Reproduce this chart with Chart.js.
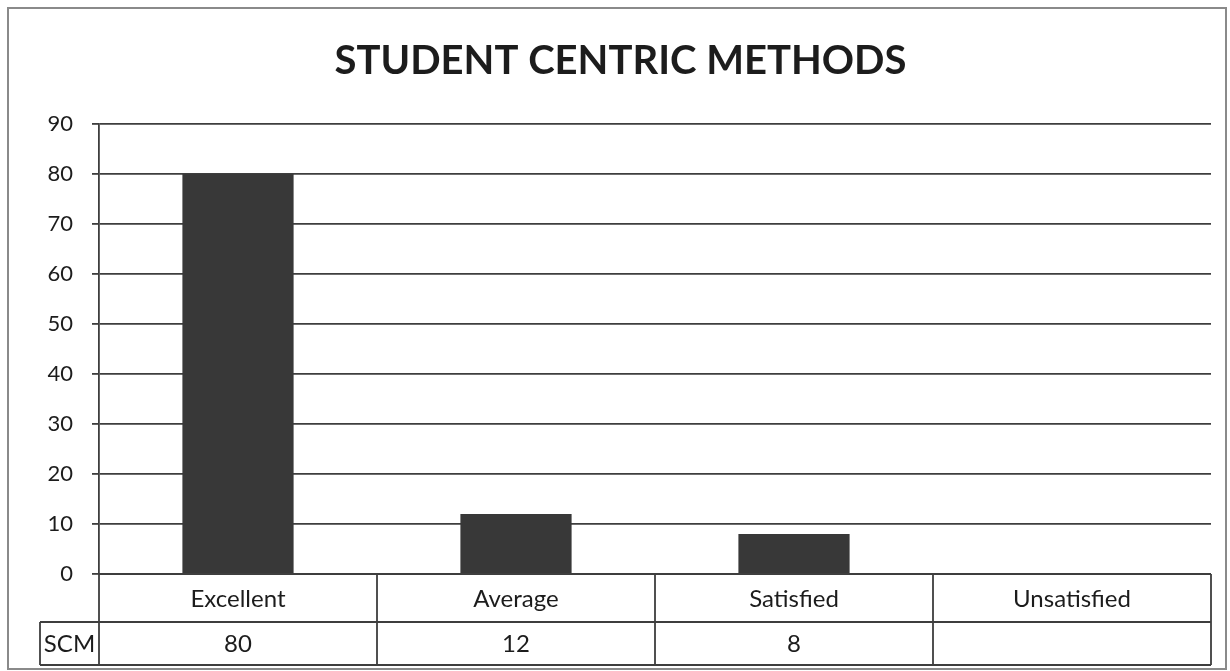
<!DOCTYPE html>
<html>
<head>
<meta charset="utf-8">
<script src="https://cdn.jsdelivr.net/npm/chart.js@4/dist/chart.umd.min.js"></script>
<style>
  html, body { margin: 0; padding: 0; background: #fff; }
  #wrap { width: 1230px; height: 671px; position: relative; }
</style>
</head>
<body>
<div id="wrap"><canvas id="scm"></canvas></div>
<script>
/* ---------- data ---------- */
const categories = ["Excellent", "Average", "Satisfied", "Unsatisfied"];
const seriesName = "SCM";
const scmValues = [80, 12, 8, null];
const yTicks = [0, 10, 20, 30, 40, 50, 60, 70, 80, 90];

const fontFamily = "Lato, 'Open Sans', 'Liberation Sans', sans-serif";
const ink = "#1c1c1c";
const lineColor = "#3e3e3e";

/* ---------- outer frame + data table under the plot ---------- */
const frameAndTable = {
  id: "frameAndTable",
  afterDraw(chart) {
    const ctx = chart.ctx;
    const area = chart.chartArea;
    const x = chart.scales.x;
    const row1 = area.bottom + 48;
    const row2 = row1 + 43;
    const step = (area.right - area.left) / categories.length;
    const labelLeft = 40;

    ctx.save();
    // frame
    ctx.strokeStyle = "#8a8a8a";
    ctx.lineWidth = 2;
    ctx.strokeRect(8, 8, 1218, 661);

    ctx.strokeStyle = lineColor;
    ctx.lineWidth = 1.8;
    ctx.beginPath();
    // horizontal rules
    ctx.moveTo(area.left, area.bottom); ctx.lineTo(area.right, area.bottom);
    ctx.moveTo(labelLeft, row1); ctx.lineTo(area.right, row1);
    ctx.moveTo(labelLeft, row2); ctx.lineTo(area.right, row2);
    // verticals
    ctx.moveTo(labelLeft, row1); ctx.lineTo(labelLeft, row2);
    for (let i = 0; i <= categories.length; i++) {
      const px = area.left + step * i;
      ctx.moveTo(px, area.bottom); ctx.lineTo(px, row2);
    }
    ctx.stroke();

    ctx.fillStyle = ink;
    ctx.font = "24px " + fontFamily;
    ctx.textAlign = "center";
    ctx.textBaseline = "middle";
    categories.forEach((c, i) => {
      const cx = x.getPixelForValue(i);
      ctx.fillText(c, cx, (area.bottom + row1) / 2 + 1);
      const v = scmValues[i];
      ctx.fillText(v == null ? "" : String(v), cx, (row1 + row2) / 2 + 1);
    });
    ctx.fillText(seriesName, (labelLeft + area.left) / 2, (row1 + row2) / 2 + 1);
    ctx.restore();
  }
};

new Chart(document.getElementById("scm"), {
  type: "bar",
  plugins: [frameAndTable],
  data: {
    labels: categories,
    datasets: [{
      label: seriesName,
      data: scmValues,
      backgroundColor: "#383838",
      borderWidth: 0,
      categoryPercentage: 1,
      barPercentage: 0.4
    }]
  },
  options: {
    responsive: true,
    maintainAspectRatio: false,
    animation: false,
    layout: { padding: { left: 30, right: 19, top: 0, bottom: 97 } },
    plugins: {
      legend: { display: false },
      tooltip: { enabled: false },
      title: {
        display: true,
        text: "STUDENT CENTRIC METHODS",
        color: "#1c1c1c",
        font: { family: fontFamily, size: 40, weight: "bold", lineHeight: 1.2 },
        padding: { top: 37, bottom: 39 }
      }
    },
    scales: {
      x: { display: false },
      y: {
        min: 0,
        max: 90,
        afterFit(scale) { scale.width = 69; },
        afterBuildTicks(scale) { scale.ticks = yTicks.map(v => ({ value: v })); },
        border: { display: true, color: lineColor, width: 1.8 },
        grid: { color: lineColor, lineWidth: 1.8, tickLength: 7, drawTicks: true },
        ticks: { color: ink, padding: 19, font: { family: fontFamily, size: 22 } }
      }
    }
  }
});
</script>
</body>
</html>
